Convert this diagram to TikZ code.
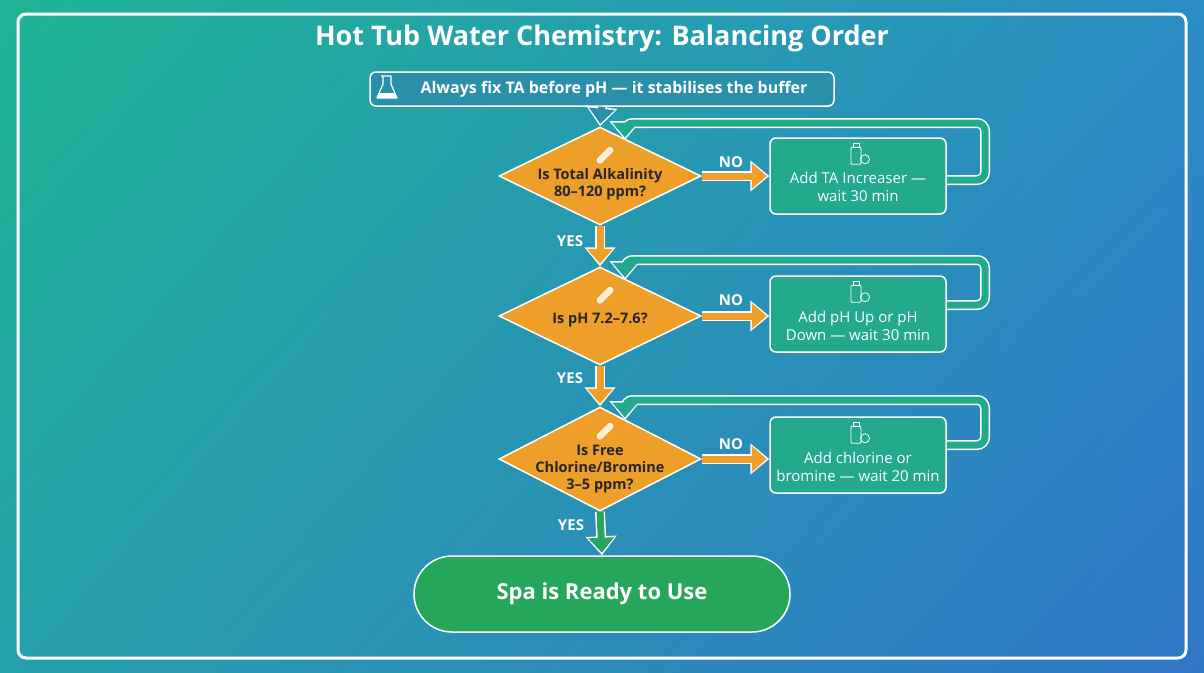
\documentclass[tikz,border=0pt]{standalone}
\usepackage{fontspec}
\setmainfont{Open Sans}
\usetikzlibrary{arrows.meta,shapes.geometric,calc,shadings}
\definecolor{orng}{HTML}{EE9F2A}
\definecolor{boxg}{HTML}{22A98E}
\definecolor{notec}{HTML}{2A8FA8}
\definecolor{loopc}{HTML}{22A98E}
\definecolor{endg}{HTML}{26A65B}
\definecolor{bgul}{RGB}{32,180,148}
\definecolor{bgur}{RGB}{42,140,196}
\definecolor{bgll}{RGB}{38,160,170}
\definecolor{bglr}{RGB}{48,118,200}
\begin{document}
\begin{tikzpicture}[x=1pt,y=-1pt,
  dec/.style={diamond,draw=white,line width=1.5pt,fill=orng,minimum width=202pt,minimum height=98pt,inner sep=0pt},
  dtx/.style={align=center,font=\bfseries\fontsize{14.5}{17}\selectfont,text=black!85,inner sep=0pt},
  act/.style={rectangle,rounded corners=6pt,draw=white,line width=1.5pt,fill=boxg,minimum width=176pt,minimum height=76pt},
  atx/.style={align=center,font=\fontsize{15}{18}\selectfont,text=white,inner sep=0pt},
  lbl/.style={font=\bfseries\fontsize{15}{17}\selectfont,text=white},
  outw/.style={line width=10pt,white,-{Triangle[length=19pt,width=30pt]}},
  inr/.style={line width=7pt,-{Triangle[length=15pt,width=25pt]},shorten >=2.5pt},
  strip/.style={draw=white,fill=white!80!orng,line width=0.6pt,rounded corners=1.5pt}
]
\useasboundingbox (0,0) rectangle (1204,672);
\shade[upper left=bgul,upper right=bgur,lower left=bgll,lower right=bglr] (0,0) rectangle (1204,672);
\draw[white,line width=3pt,rounded corners=8pt] (18,14) rectangle (1186,658);
\node[font=\bfseries\fontsize{27}{30}\selectfont,text=white] (title) at (602,38) {Hot Tub Water Chemistry: Balancing Order};
\node[draw=white,line width=1.5pt,fill=notec,rounded corners=6pt,minimum width=464pt,minimum height=34pt,font=\bfseries\fontsize{16}{18}\selectfont,text=white] (note) at (602,89) {\hspace{24pt}Always fix TA before pH — it stabilises the buffer};
% flask icon
\draw[white,line width=1.2pt,line join=round] (381,76)--(391,76) (383,76)--(383,84)--(377,98)--(397,98)--(391,84)--(391,76);
\fill[white] (379,93)--(395,93)--(397,98)--(377,98)--cycle;

\node[dec] (d1) at (600,176) {};
\node[dec] (d2) at (600,316) {};
\node[dec,minimum height=104pt] (d3) at (600,459) {};
\node[dtx] (dt1) at (600,184) {Is Total Alkalinity\\80–120 ppm?};
\node[dtx] (dt2) at (600,320) {Is pH 7.2–7.6?};
\node[dtx] (dt3) at (600,469) {Is Free\\Chlorine/Bromine\\3–5 ppm?};
\node[act] (a1) at (858,176) {};
\node[act] (a2) at (858,314) {};
\node[act] (a3) at (858,455) {};
\node[atx] (at1) at (858,187) {Add TA Increaser —\\wait 30 min};
\node[atx] (at2) at (858,326) {Add pH Up or pH\\Down — wait 30 min};
\node[atx] (at3) at (858,467) {Add chlorine or\\bromine — wait 20 min};
\node[draw=white,line width=1.5pt,fill=endg,rounded corners=38pt,minimum width=376pt,minimum height=76pt,font=\bfseries\fontsize{22}{26}\selectfont,text=white] (end) at (602,594) {Spa is Ready to Use};

% icons
\foreach \d/\o in {d1/0,d2/0,d3/-4}{
  \draw[strip] ($(\d.north)+(-4,34+\o)$) -- ($(\d.north)+(10,20+\o)$) -- ($(\d.north)+(14,24+\o)$) -- ($(\d.north)+(0,38+\o)$) -- cycle;
}
\foreach \a in {a1,a2,a3}{
  \draw[white,line width=0.8pt,rounded corners=1pt] ($(\a.north)+(-7,10)$) rectangle ($(\a.north)+(3,27)$);
  \draw[white,line width=0.8pt] ($(\a.north)+(-5,6)$) rectangle ($(\a.north)+(1,10)$);
  \draw[white,line width=0.8pt] ($(\a.north)+(7,22)$) circle (4.5pt);
}

% note arrow
\draw[outw] (note.south) -- (d1.north);
\draw[inr,color=notec] (note.south) -- (d1.north);

% NO arrows
\foreach \d/\a in {d1/a1,d2/a2,d3/a3}{
  \draw[outw] (\d.east) -- (\d.east -| \a.west);
  \draw[inr,color=orng] (\d.east) -- (\d.east -| \a.west);
}
\node[lbl] (n1) at (731,162) {NO};
\node[lbl] (n2) at (731,300) {NO};
\node[lbl] (n3) at (731,444) {NO};

% YES arrows
\draw[outw] (d1.south) -- (d2.north); \draw[inr,color=orng] (d1.south) -- (d2.north);
\draw[outw] (d2.south) -- (d3.north); \draw[inr,color=orng] (d2.south) -- (d3.north);
\draw[outw] (d3.south) -- (end.north); \draw[inr,color=endg] (d3.south) -- (end.north);
\node[lbl] (y1) at (570,241) {YES};
\node[lbl] (y2) at (570,378) {YES};
\node[lbl] (y3) at (571,525) {YES};

% loops
\coordinate (t1) at (625,140);
\coordinate (t2) at (625,280);
\coordinate (t3) at (625,420);
\foreach \a/\ya/\yb/\t in {a1/180/123/t1,a2/305/260/t2,a3/445/400/t3}{
\draw[white,line width=10pt,rounded corners=8pt,-{Triangle[length=19pt,width=30pt]}] (\a.east |- 0,\ya) -- (985,\ya) -- (985,\yb) -- (625,\yb) -- (\t);
\draw[loopc,line width=7pt,rounded corners=8pt,shorten >=2.5pt,-{Triangle[length=15pt,width=25pt]}] (\a.east |- 0,\ya) -- (985,\ya) -- (985,\yb) -- (625,\yb) -- (\t);
}
\end{tikzpicture}
\end{document}
